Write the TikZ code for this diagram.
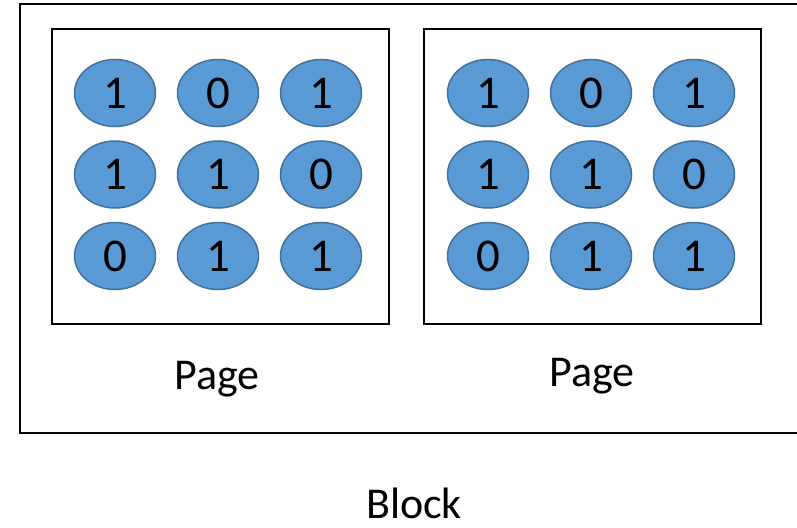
\documentclass[tikz,border=0pt]{standalone}
\usepackage{fontspec}
\setmainfont{Carlito}
\usepackage{tikz}
\usetikzlibrary{shapes.geometric,positioning}

\definecolor{bitfill}{HTML}{5B9BD5}
\definecolor{bitline}{HTML}{41719C}

\begin{document}
\begin{tikzpicture}[
  x=1pt, y=-1pt,
  bit/.style={ellipse, draw=bitline, line width=1.5pt, fill=bitfill,
              minimum width=81pt, minimum height=67pt, inner sep=0pt,
              font=\fontsize{47}{47}\selectfont},
  pagebox/.style={draw, line width=2.2pt, minimum width=337pt, minimum height=295pt},
  blockbox/.style={draw, line width=2.2pt, minimum width=780pt, minimum height=429pt},
  lbl/.style={anchor=base, inner sep=0pt, font=\fontsize{44}{44}\selectfont}
]
  \clip (0,0) rectangle (797,527);
  \useasboundingbox (0,0) rectangle (797,527);

  \node[blockbox] (block) at (410,218.5) {};

  \node[pagebox] (pageA) at (220.5,176.5) {};
  \node[pagebox] (pageB) at (592.5,176.5) {};

  % bits, same pattern in both pages
  \foreach \pg/\x in {A/115,B/488}{
    \foreach \v [count=\i from 0] in {1,0,1,1,1,0,0,1,1}{
      \pgfmathtruncatemacro{\col}{mod(\i,3)}
      \pgfmathtruncatemacro{\row}{div(\i,3)}
      \node[bit] (bit\pg\i) at ({\x+103*\col},{93+81.5*\row}) {\v};
    }
  }

  \node[lbl] (labA) at (217,389) {Page};
  \node[lbl] (labB) at (592,386) {Page};
  \node[lbl] (labBlock) at (414,518) {Block};
\end{tikzpicture}
\end{document}
